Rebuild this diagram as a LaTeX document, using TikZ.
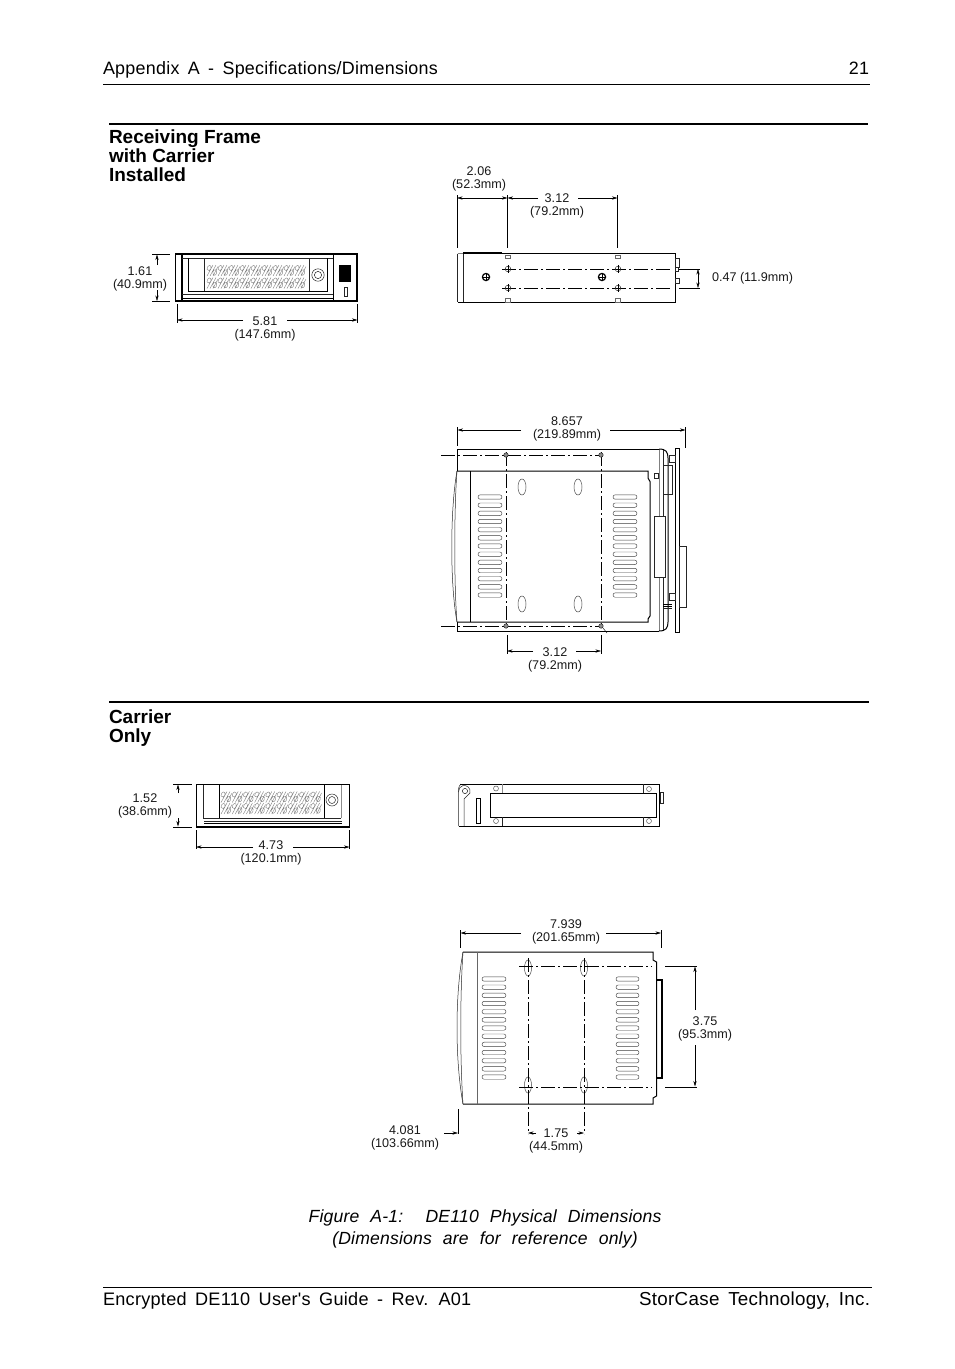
\documentclass[tikz,border=0pt]{standalone}
\usepackage{fontspec}
\setmainfont{Liberation Sans}
\newfontfamily\hdfont[WordSpace=1.6,LetterSpace=1.5]{Liberation Sans}
\newfontfamily\capfont[WordSpace=2.2,LetterSpace=1,ItalicFont={Liberation Sans Italic}]{Liberation Sans}
\usetikzlibrary{arrows.meta}
\tikzset{
  x=1pt,y=-1pt,
  every node/.style={inner sep=0pt,outer sep=0pt},
  obj/.style={draw=black,line width=1pt},
  thin obj/.style={draw=black!85,line width=0.5pt},
  grayl/.style={draw=black!45,line width=0.7pt},
  dimline/.style={draw=black,line width=0.45pt},
  dimarr/.style={dimline,-{Stealth[length=5.5pt,width=3.2pt]}},
  dimboth/.style={dimline,{Stealth[length=5.5pt,width=3.2pt]}-{Stealth[length=5.5pt,width=3.2pt]}},
  cl/.style={draw=black,line width=0.5pt,dash pattern=on 14pt off 3pt on 2pt off 3pt},
  dimtext/.style={font=\fontsize{12.6}{13}\selectfont,align=center,text=black!90,yshift=-1.2pt},
  head/.style={font=\fontsize{17.9}{19}\hdfont,anchor=base west},
  title/.style={font=\fontsize{19}{19}\selectfont\bfseries,align=left,anchor=north west},
  slot/.style={draw=black!75,line width=0.45pt,rounded corners=2.2pt},
}
\newcommand{\slotcol}[3]{\foreach \i in {0,...,12}{\draw[slot] ({#1},{#3+\i*8.17-2.2}) rectangle ({#2},{#3+\i*8.17+2.2});}}
\newcommand{\hatchrow}[4]{\foreach \k in {0,...,#4}{
  \pgfmathsetmacro{\cx}{#1+\k*#3}
  \draw[black!50,line width=0.4pt] (\cx,#2+5.5) -- (\cx+6,#2-5.5) (\cx+3,#2+5.5) -- (\cx+9,#2-5.5) (\cx+6,#2+5.5) -- (\cx+11,#2-4)
   (\cx,#2-1) .. controls (\cx,#2-6) and (\cx+5,#2-6.5) .. (\cx+4,#2-2) .. controls (\cx+3.5,#2) and (\cx+1,#2+1) .. (\cx,#2-1)
   (\cx+6,#2+1) .. controls (\cx+7,#2-2) and (\cx+11,#2-1) .. (\cx+9.5,#2+3) .. controls (\cx+8.5,#2+6) and (\cx+5,#2+5) .. (\cx+6,#2+1);}}
\begin{document}
\begin{tikzpicture}
\useasboundingbox (0,0) rectangle (954,1369);
\fill[white] (0,0) rectangle (954,1369);
% header and footer
\node[head] (hdr) at (103,74.5) {Appendix A - Specifications/Dimensions};
\node[head,anchor=base east] (pg) at (869,74.5) {21};
\coordinate (hl1) at (103,84); \coordinate (hl2) at (870,84);
\draw[line width=0.8pt] (hl1) -- (hl2);
\coordinate (fl1) at (103,1287); \coordinate (fl2) at (872,1287);
\draw[line width=0.8pt] (fl1) -- (fl2);
\node[head,font=\fontsize{18.1}{19}\hdfont] (ftl) at (103,1305) {Encrypted DE110 User's Guide - Rev. A01};
\node[head,font=\fontsize{18.8}{19}\hdfont,anchor=base east] (ftr) at (870,1305) {StorCase Technology, Inc.};
\node[font=\fontsize{17.6}{22}\capfont\itshape,align=center] (cap) at (485,1229) {Figure A-1:\ \ DE110 Physical Dimensions\\(Dimensions are for reference only)};
% section rules and titles
\draw[line width=2pt] (109,124) -- (868,124);
\draw[line width=1.6pt] (109,702) -- (869,702);
\node[title] (t1) at (109,130) {Receiving Frame\\with Carrier\\Installed};
\node[title] (t2) at (109,710) {Carrier\\Only};

% ---------- Frame front view
\draw[line width=1.1pt] (175.5,254) rectangle (357,301);
\draw[line width=1.4pt] (182,255) -- (182,300);
\draw[obj] (333,254) -- (333,301);
\draw[thin obj] (182,258) -- (333,258);
\draw[obj] (188,258) -- (188,291) -- (327,291) -- (327,258);
\draw[thin obj] (204,258) -- (204,291) (309,258) -- (309,291);
\draw[thin obj] (182,294) -- (333,294);
\draw[obj] (182,298) -- (333,298);
\hatchrow{207}{270.5}{11}{8}\hatchrow{207}{283}{11}{8}
\draw[thin obj] (318,275) circle (6.2) circle (3.6);
\fill (339,265) rectangle (351,282);
\draw[thin obj] (344.5,287) rectangle (347.5,296);
% 1.61
\node[dimtext] (d161) at (140,277.5) {1.61\\(40.9mm)};
\draw[dimline] (152,254) -- (170,254) (152,301.5) -- (170,301.5);
\draw[dimarr] (157,265) -- (157,254.5);
\draw[dimarr] (157,290) -- (157,301);
% 5.81
\node[dimtext] (d581) at (265,327.5) {5.81\\(147.6mm)};
\draw[dimline] (177,304) -- (177,323) (357.5,304) -- (357.5,323);
\draw[dimarr] (243,320) -- (177,320);
\draw[dimarr] (287,320) -- (357.5,320);

% ---------- Frame side view
\draw[thin obj] (457.5,253.5) -- (457.5,302);
\draw[obj] (463,253.5) -- (675,253.5) -- (675,302) -- (457.5,302);
\draw[line width=1.6pt] (463,253) -- (502,253);
\draw[draw=black!50,line width=0.5pt] (457.5,253.5) -- (463,253.5);
\draw[thin obj] (463,253.5) -- (463,302);
\draw[cl] (502,269) -- (673,269);
\draw[cl] (502,288) -- (673,288);
\foreach \x in {508,618}{
  \draw[draw=black!60,line width=0.5pt,fill=white] (\x-2.5,255) rectangle (\x+2.5,258);
  \draw[draw=black!60,line width=0.5pt,fill=white] (\x-2.5,298) rectangle (\x+2.5,302);
  \draw[thin obj] (\x,269) circle (2.8) (\x,288) circle (2.8);
  \draw[dimline] (\x,265) -- (\x,273) (\x,284) -- (\x,292);
}
\foreach \x in {486,602}{
  \draw[line width=1.2pt] (\x,277) circle (3.6);
  \draw[line width=0.8pt] (\x-3.6,277) -- (\x+3.6,277) (\x,273.4) -- (\x,280.6);
}
\draw[thin obj] (675,258) rectangle (679,267) (675,267) rectangle (678,271) (675,278) rectangle (679,283);
% 0.47
\node[dimtext,anchor=west,yshift=1.2pt] (d047) at (712,278) {0.47 (11.9mm)};
\draw[dimline] (679,269) -- (700,269) (679,288) -- (700,288);
\draw[dimboth] (698,269) -- (698,288);
% 2.06
\node[dimtext] (d206) at (479,177.5) {2.06\\(52.3mm)};
\draw[dimline] (457,195) -- (457,248) (507.5,195) -- (507.5,248) (617.5,195) -- (617.5,248);
\draw[dimboth] (457,198) -- (507.5,198);
% 3.12
\node[dimtext] (d312a) at (557,204.5) {3.12\\(79.2mm)};
\draw[dimarr] (538,198) -- (507.5,198);
\draw[dimarr] (578,198) -- (617.5,198);

% ---------- Frame top view
\draw[obj] (457.5,449) -- (457.5,631) -- (659,631);
\draw[obj] (457.5,449) -- (659,449);
\draw[line width=1pt,black!50] (659,449) -- (659,631);
\draw[obj] (659,449) .. controls (666,449) and (668,452) .. (668,458) -- (668,622) .. controls (668,628) and (666,631) .. (659,631);
\draw[thin obj] (663,450) -- (663,630);
\draw[obj] (675,448) rectangle (679,632);
\draw[thin obj] (679,546) rectangle (686,607);
\draw[thin obj] (663,465) rectangle (672,494);
\draw[thin obj,fill=white] (654,516) rectangle (665,577);
\draw[thin obj] (669,455) rectangle (675,462) (669,593) rectangle (675,600);
\draw[obj] (663,604) -- (672,604) (663,606) -- (672,606);
\draw[thin obj] (663,608.5) -- (672,608.5);
\draw[thin obj] (654,473) rectangle (658,478);
% carrier
\draw[obj,fill=white] (457,471) -- (648,471) -- (648,478) -- (650,481.5) -- (650,616) -- (648,619) -- (648,622) -- (457,622);
\draw[obj] (470,471) -- (470,622);
\draw[thin obj] (457,471) .. controls (450,510) and (450,585) .. (457,622);
\draw[thin obj] (457,471) .. controls (454,510) and (454,585) .. (457,622);
\slotcol{478}{502}{497}
\slotcol{613}{637}{497}
\foreach \x in {522,578}\foreach \y in {487,604}{\draw[thin obj,draw=black!70] (\x,\y) ellipse (4 and 8);}
\draw[cl] (441,455) -- (603,455);
\draw[cl] (441,626) -- (603,626);
\draw[cl] (506,452) -- (506,628);
\draw[cl] (601,452) -- (601,628);
\foreach \x in {506,601}\foreach \y in {455,626}{\draw[thin obj,fill=black!45] (\x,\y) circle (2.2);}
\draw[dimline] (603,628) -- (607,633);
% 8.657
\node[dimtext] (d8657) at (567,427.5) {8.657\\(219.89mm)};
\draw[dimline] (457.5,427) -- (457.5,446) (685.5,427) -- (685.5,448);
\draw[dimarr] (521,430) -- (457.5,430);
\draw[dimarr] (610,430) -- (685.5,430);
% 3.12 bottom
\node[dimtext] (d312b) at (555,658.5) {3.12\\(79.2mm)};
\draw[dimline] (507,635) -- (507,654) (601,635) -- (601,654);
\draw[dimarr] (533,651) -- (507,651);
\draw[dimarr] (576,651) -- (601,651);

% ---------- Carrier front view
\draw[line width=1pt] (196.5,784) -- (196.5,827) (349,784) -- (349,827) (196.5,784) -- (349,784);
\draw[line width=1.6pt] (196,827) -- (349.5,827);
\draw[thin obj] (203,785) -- (203,818) -- (341,818);
\draw[grayl] (341.5,785) -- (341.5,818);
\draw[obj] (219,785) -- (219,818) (324,785) -- (324,818);
\draw[thin obj] (204,821) -- (342,821);
\draw[obj] (204,823.5) -- (342,823.5);
\hatchrow{221}{797}{11.2}{8}\hatchrow{221}{808.5}{11.2}{8}
\draw[thin obj] (332,800) circle (6) circle (3.5);
% 1.52
\node[dimtext] (d152) at (145,804.5) {1.52\\(38.6mm)};
\draw[dimline] (173,784) -- (192,784) (173,827) -- (192,827);
\draw[dimarr] (178,793) -- (178,784.5);
\draw[dimarr] (178,818) -- (178,826.5);
% 4.73
\node[dimtext] (d473) at (271,851.5) {4.73\\(120.1mm)};
\draw[dimline] (196,830) -- (196,849) (349.5,830) -- (349.5,849);
\draw[dimarr] (253,847) -- (196,847);
\draw[dimarr] (293,847) -- (349.5,847);

% ---------- Carrier side view
\draw[thin obj] (458.5,826) -- (458.5,791) .. controls (458.5,786) and (460,785) .. (461,784);
\draw[obj] (460,784) -- (659,784) -- (659,826) -- (458.5,826);
\draw[thin obj] (464,826) -- (464,799) -- (470,793) .. controls (471,788) and (467,785) .. (463,785.5) .. controls (460,786) and (458.5,789) .. (458.5,792);
\draw[thin obj] (465,791) circle (2.6);
\draw[obj] (476,798) rectangle (480,823.5);
\draw[obj,fill=white] (490,793) rectangle (656,817);
\draw[grayl] (502,784) -- (502,793);
\draw[thin obj] (502,817) -- (502,826) (643,784) -- (643,793) (643,817) -- (643,826);
\foreach \x/\y in {496/788.5,649/789,496/821,649/821}{\draw[draw=black!70,line width=0.45pt] (\x,\y) circle (2.5);}
\draw[thin obj] (660,792) rectangle (663,803);

% ---------- Carrier top view
\draw[obj] (463,952) -- (653,952) -- (653,960) -- (656.5,962) -- (656.5,1096) -- (653,1098) -- (653,1104) -- (463,1104);
\draw[line width=1pt,black!60] (477,952) -- (477,1104);
\draw[thin obj] (463,952) .. controls (455,995) and (455,1060) .. (463,1104);
\draw[thin obj] (463,952) .. controls (460,995) and (460,1060) .. (463,1104);
\draw[line width=1.3pt] (657,980) -- (662,980) -- (662,1078) -- (657,1078);
\slotcol{482}{506}{979}
\slotcol{616}{639}{979}
\foreach \x in {528,584}\foreach \y in {968,1085}{\draw[thin obj,draw=black!70] (\x,\y) ellipse (3.5 and 8);}
\draw[cl] (519,966) -- (652,966);
\draw[cl] (519,1087) -- (652,1087);
\draw[cl] (528,958) -- (528,1134);
\draw[cl] (584,958) -- (584,1134);
% 7.939
\node[dimtext] (d7939) at (566,930.5) {7.939\\(201.65mm)};
\draw[dimline] (460.5,930) -- (460.5,948) (661,930) -- (661,948);
\draw[dimarr] (521,933) -- (460.5,933);
\draw[dimarr] (606,933) -- (661,933);
% 3.75
\node[dimtext] (d375) at (705,1027.5) {3.75\\(95.3mm)};
\draw[dimline] (665,966) -- (697,966) (665,1087) -- (697,1087);
\draw[dimarr] (695,1010) -- (695,966.5);
\draw[dimarr] (695,1045) -- (695,1086.5);
% 4.081
\node[dimtext] (d4081) at (405,1136.5) {4.081\\(103.66mm)};
\draw[dimline] (458,1109) -- (458,1134);
\draw[dimarr] (444,1133) -- (458,1133);
% 1.75
\node[dimtext] (d175) at (556,1139.5) {1.75\\(44.5mm)};
\draw[dimarr] (536,1133) -- (528,1133);
\draw[dimarr] (577,1133) -- (584,1133);
\end{tikzpicture}
\end{document}
